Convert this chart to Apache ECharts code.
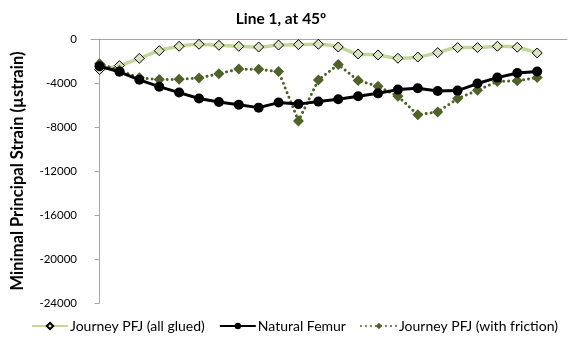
<!DOCTYPE html>
<html>
<head>
<meta charset="utf-8">
<script src="https://cdn.jsdelivr.net/npm/echarts@6/dist/echarts.min.js"></script>
<style>
  html, body { margin: 0; padding: 0; background: #fff; }
  #chart { width: 570px; height: 347px; }
</style>
</head>
<body>
<div id="chart"></div>
<script>
// Measurement positions along Line 1 (23 gauges)
const positions = [0,1,2,3,4,5,6,7,8,9,10,11,12,13,14,15,16,17,18,19,20,21,22];

// Minimal principal strain (µstrain) per configuration
const allGlued = [-2780,-2420,-1760,-1060,-660,-480,-570,-660,-730,-550,-510,-480,-730,-1360,-1450,-1750,-1640,-1240,-780,-780,-660,-750,-1270];
const naturalFemur = [-2480,-2980,-3710,-4330,-4870,-5410,-5730,-5980,-6240,-5780,-5920,-5690,-5480,-5210,-4940,-4600,-4480,-4730,-4690,-4050,-3510,-3090,-2960];
const withFriction = [-2240,-2850,-3530,-3690,-3660,-3550,-3150,-2730,-2760,-2960,-7450,-3720,-2320,-3780,-4300,-5210,-6890,-6630,-5420,-4660,-3860,-3800,-3510];

// Y axis ticks
const yTicks = [0,-4000,-8000,-12000,-16000,-20000,-24000];

const seriesNames = ['Journey PFJ (all glued)', 'Natural Femur', 'Journey PFJ (with friction)'];

const pairs = vals => vals.map((v, i) => [positions[i], v]);

const font = 'Lato, "Open Sans", sans-serif';
const chart = echarts.init(document.getElementById('chart'), null, { renderer: 'canvas' });

chart.setOption({
  animation: false,
  backgroundColor: '#ffffff',
  textStyle: { fontFamily: font },
  title: {
    text: 'Line 1, at 45º',
    left: 276,
    textAlign: 'center',
    top: 6,
    textStyle: { fontFamily: font, fontSize: 15.5, fontWeight: 'bold', color: '#000' }
  },
  legend: {
    bottom: 14,
    left: 31,
    width: 600,
    padding: 0,
    itemWidth: 36,
    itemHeight: 8,
    itemGap: 14,
    textStyle: { fontFamily: font, fontSize: 14, color: '#000', padding: [0, 0, 0, -3] },
    data: seriesNames
  },
  grid: { left: 91, right: 3, top: 39, bottom: 44, containLabel: false },
  xAxis: {
    type: 'value',
    min: -0.43,
    max: 23.5,
    position: 'top',
    axisLine: { show: true, lineStyle: { color: '#a6a6a6', width: 1 } },
    axisTick: { show: false },
    axisLabel: { show: false },
    splitLine: { show: false }
  },
  yAxis: {
    type: 'value',
    min: yTicks[yTicks.length - 1],
    max: yTicks[0],
    interval: 4000,
    name: 'Minimal Principal Strain (µstrain)',
    nameLocation: 'middle',
    nameGap: 65,
    nameTextStyle: { fontFamily: font, fontSize: 16.5, fontWeight: 'bold', color: '#000' },
    axisLine: { show: true, lineStyle: { color: '#a6a6a6', width: 1 } },
    axisTick: { show: true, length: 5, lineStyle: { color: '#a6a6a6' } },
    axisLabel: { fontFamily: font, fontSize: 11.5, color: '#000', margin: 14, formatter: v => String(v) },
    splitLine: { show: false }
  },
  series: [
    {
      name: seriesNames[0],
      type: 'line',
      data: pairs(allGlued),
      smooth: 0.3,
      symbol: 'diamond',
      symbolSize: 10,
      z: 2,
      lineStyle: { color: '#c3d69b', width: 3.5 },
      itemStyle: { color: '#d7e4bd', borderColor: '#000', borderWidth: 1 }
    },
    {
      name: seriesNames[1],
      type: 'line',
      data: pairs(naturalFemur),
      symbol: 'circle',
      symbolSize: 10,
      z: 4,
      lineStyle: { color: '#000', width: 3 },
      itemStyle: { color: '#000', borderColor: '#000', borderWidth: 0 }
    },
    {
      name: seriesNames[2],
      type: 'line',
      data: pairs(withFriction),
      symbol: 'diamond',
      symbolSize: 11,
      z: 3,
      lineStyle: { color: '#4f6228', width: 3, type: [0.01, 5], cap: 'round' },
      itemStyle: { color: '#4f6228', borderColor: '#4f6228', borderWidth: 0 }
    }
  ]
});
</script>
</body>
</html>
